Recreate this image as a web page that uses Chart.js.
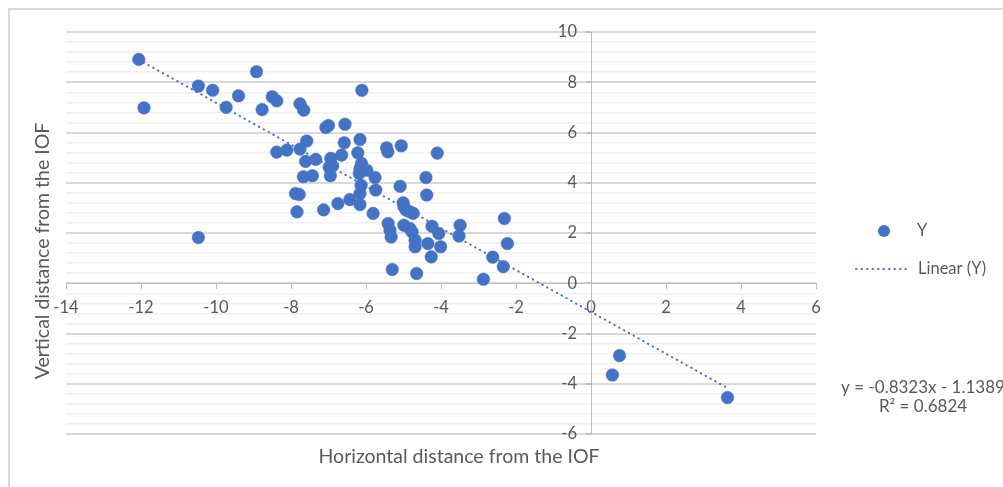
<!DOCTYPE html>
<html>
<head>
<meta charset="utf-8">
<script src="https://cdn.jsdelivr.net/npm/chart.js@4.4.1/dist/chart.umd.min.js"></script>
<style>
  html, body { margin: 0; padding: 0; background: #fff; overflow: hidden; }
  #wrap { position: relative; width: 1003px; height: 487px; }
  #frame { position: absolute; left: 8px; top: 8px; width: 1100px; height: 600px; border: 2px solid #d9d9d9; }
  canvas { position: absolute; left: 0; top: 0; }
</style>
</head>
<body>
<div id="wrap">
  <div id="frame"></div>
  <canvas id="chart" width="1003" height="487"></canvas>
</div>
<script>
// Data
const xValues = [
  -12.06, -11.92, -8.92, -10.47, -10.09, -9.40, -9.73, -8.50, -8.38, -8.77,
  -7.76, -7.66, -7.07, -7.00, -7.58, -8.38, -8.11, -7.76, -7.61, -7.34,
  -7.67, -7.43, -6.94, -6.98, -6.89, -6.95, -7.88, -7.78, -7.84, -7.13,
  -6.75, -10.47, -6.11, -6.56, -6.58, -6.16, -6.65, -6.22, -6.12, -6.16,
  -6.18, -5.98, -5.76, -6.13, -6.16, -5.74, -6.43, -6.16, -5.81, -5.45,
  -5.42, -5.06, -4.10, -4.40, -4.38, -5.09, -5.01, -4.99, -4.93, -4.74,
  -4.83, -5.41, -5.36, -5.33, -4.99, -4.83, -4.77, -4.69, -4.69, -4.24,
  -4.06, -4.35, -4.01, -4.26, -3.49, -3.52, -2.31, -2.23, -2.62, -2.34,
  -2.87, -5.30, -4.65, 0.76, 0.57, 3.64
];
const yValues = [
  8.91, 6.98, 8.42, 7.85, 7.68, 7.46, 7.00, 7.42, 7.26, 6.91,
  7.14, 6.89, 6.20, 6.28, 5.66, 5.22, 5.30, 5.34, 4.85, 4.93,
  4.24, 4.28, 4.97, 4.62, 4.67, 4.28, 3.57, 3.53, 2.84, 2.92,
  3.17, 1.82, 7.68, 6.33, 5.59, 5.72, 5.10, 5.19, 4.77, 4.57,
  4.37, 4.50, 4.21, 3.90, 3.57, 3.71, 3.33, 3.13, 2.78, 5.39,
  5.23, 5.47, 5.18, 4.21, 3.51, 3.86, 3.20, 3.05, 2.91, 2.78,
  2.84, 2.38, 2.11, 1.84, 2.31, 2.18, 2.04, 1.71, 1.45, 2.27,
  1.98, 1.58, 1.45, 1.05, 2.31, 1.88, 2.58, 1.58, 1.04, 0.66,
  0.16, 0.55, 0.39, -2.88, -3.65, -4.55
];

// Linear trendline as printed on the chart
const slope = -0.8323;
const intercept = -1.1389;
const rSquared = "0.6824";

const xTicks = [-14, -12, -10, -8, -6, -4, -2, 0, 2, 4, 6];
const yMajorTicks = [-6, -4, -2, 0, 2, 4, 6, 8, 10];

const blue = "#4472C4";
const textColor = "#595959";
const fontName = "Lato, 'Open Sans', sans-serif";

const points = xValues.map((x, i) => ({ x: x, y: yValues[i] }));
const xMin = Math.min(...xValues);
const xMax = Math.max(...xValues);
const trend = [
  { x: xMin, y: slope * xMin + intercept },
  { x: xMax, y: slope * xMax + intercept }
];

function isMajor(v) {
  return yMajorTicks.some(t => Math.abs(t - v) < 1e-6);
}

// y labels of an axis placed at x=0 get no padding in Chart.js, push them left
const yLabelShift = {
  id: "yLabelShift",
  beforeDraw(chart) {
    const items = chart.scales.y.getLabelItems();
    if (items._shifted) return;
    items.forEach(it => { it.options.translation[0] -= 14; });
    items._shifted = true;
  }
};

// axis titles, legend and equation
const extras = {
  id: "extras",
  afterDraw(chart) {
    const ctx = chart.ctx;
    ctx.save();
    ctx.fillStyle = textColor;
    ctx.textBaseline = "middle";

    ctx.font = "19.5px " + fontName;
    ctx.textAlign = "center";
    ctx.fillText("Horizontal distance from the IOF", 459, 457);
    ctx.save();
    ctx.translate(43, 251);
    ctx.rotate(-Math.PI / 2);
    ctx.fillText("Vertical distance from the IOF", 0, 0);
    ctx.restore();

    // legend
    ctx.font = "16.5px " + fontName;
    ctx.fillStyle = blue;
    ctx.beginPath();
    ctx.arc(884, 231, 6, 0, Math.PI * 2);
    ctx.fill();
    ctx.strokeStyle = blue;
    ctx.lineWidth = 2;
    ctx.lineCap = "round";
    ctx.setLineDash([0.5, 5]);
    ctx.beginPath();
    ctx.moveTo(856, 269);
    ctx.lineTo(907, 269);
    ctx.stroke();
    ctx.setLineDash([]);
    ctx.fillStyle = textColor;
    ctx.textAlign = "left";
    ctx.fillText("Y", 917, 231);
    ctx.fillText("Linear (Y)", 918, 269);

    // equation
    ctx.font = "17px " + fontName;
    ctx.textAlign = "center";
    ctx.fillText("y = " + slope + "x - " + Math.abs(intercept), 923, 388);
    ctx.fillText("R² = " + rSquared, 923, 407);
    ctx.restore();
  }
};

new Chart(document.getElementById("chart"), {
  type: "scatter",
  data: {
    datasets: [
      {
        label: "Linear (Y)",
        type: "line",
        data: trend,
        borderColor: blue,
        borderWidth: 2,
        borderDash: [0.5, 5],
        borderCapStyle: "round",
        pointRadius: 0,
        fill: false,
        order: 0
      },
      {
        label: "Y",
        data: points,
        backgroundColor: blue,
        borderColor: blue,
        borderWidth: 0.5,
        pointRadius: 6.3,
        order: 1
      }
    ]
  },
  options: {
    responsive: false,
    devicePixelRatio: 1,
    animation: false,
    layout: { padding: { left: 66, top: 32, right: 187, bottom: 53 } },
    plugins: { legend: { display: false }, tooltip: { enabled: false } },
    scales: {
      x: {
        type: "linear",
        min: -14,
        max: 6,
        position: { y: 0 },
        afterBuildTicks: axis => { axis.ticks = xTicks.map(v => ({ value: v })); },
        ticks: { color: textColor, font: { family: fontName, size: 16.5 }, padding: 10 },
        grid: { drawOnChartArea: false, color: "#bfbfbf", tickLength: 5 },
        border: { color: "#bfbfbf", width: 1 }
      },
      y: {
        type: "linear",
        min: -6,
        max: 10,
        position: { x: 0 },
        ticks: {
          stepSize: 0.4,
          autoSkip: false,
          color: textColor,
          font: { family: fontName, size: 16.5 },
          callback: v => isMajor(v) ? Math.round(v) : ""
        },
        grid: {
          color: c => isMajor(c.tick.value) ? "#d9d9d9" : "#f0f0f0",
          lineWidth: c => isMajor(c.tick.value) ? 2 : 1.5,
          tickColor: c => isMajor(c.tick.value) ? "#bfbfbf" : "rgba(0,0,0,0)",
          tickLength: 5
        },
        border: { color: "#bfbfbf", width: 1 }
      }
    }
  },
  plugins: [yLabelShift, extras]
});
</script>
</body>
</html>
